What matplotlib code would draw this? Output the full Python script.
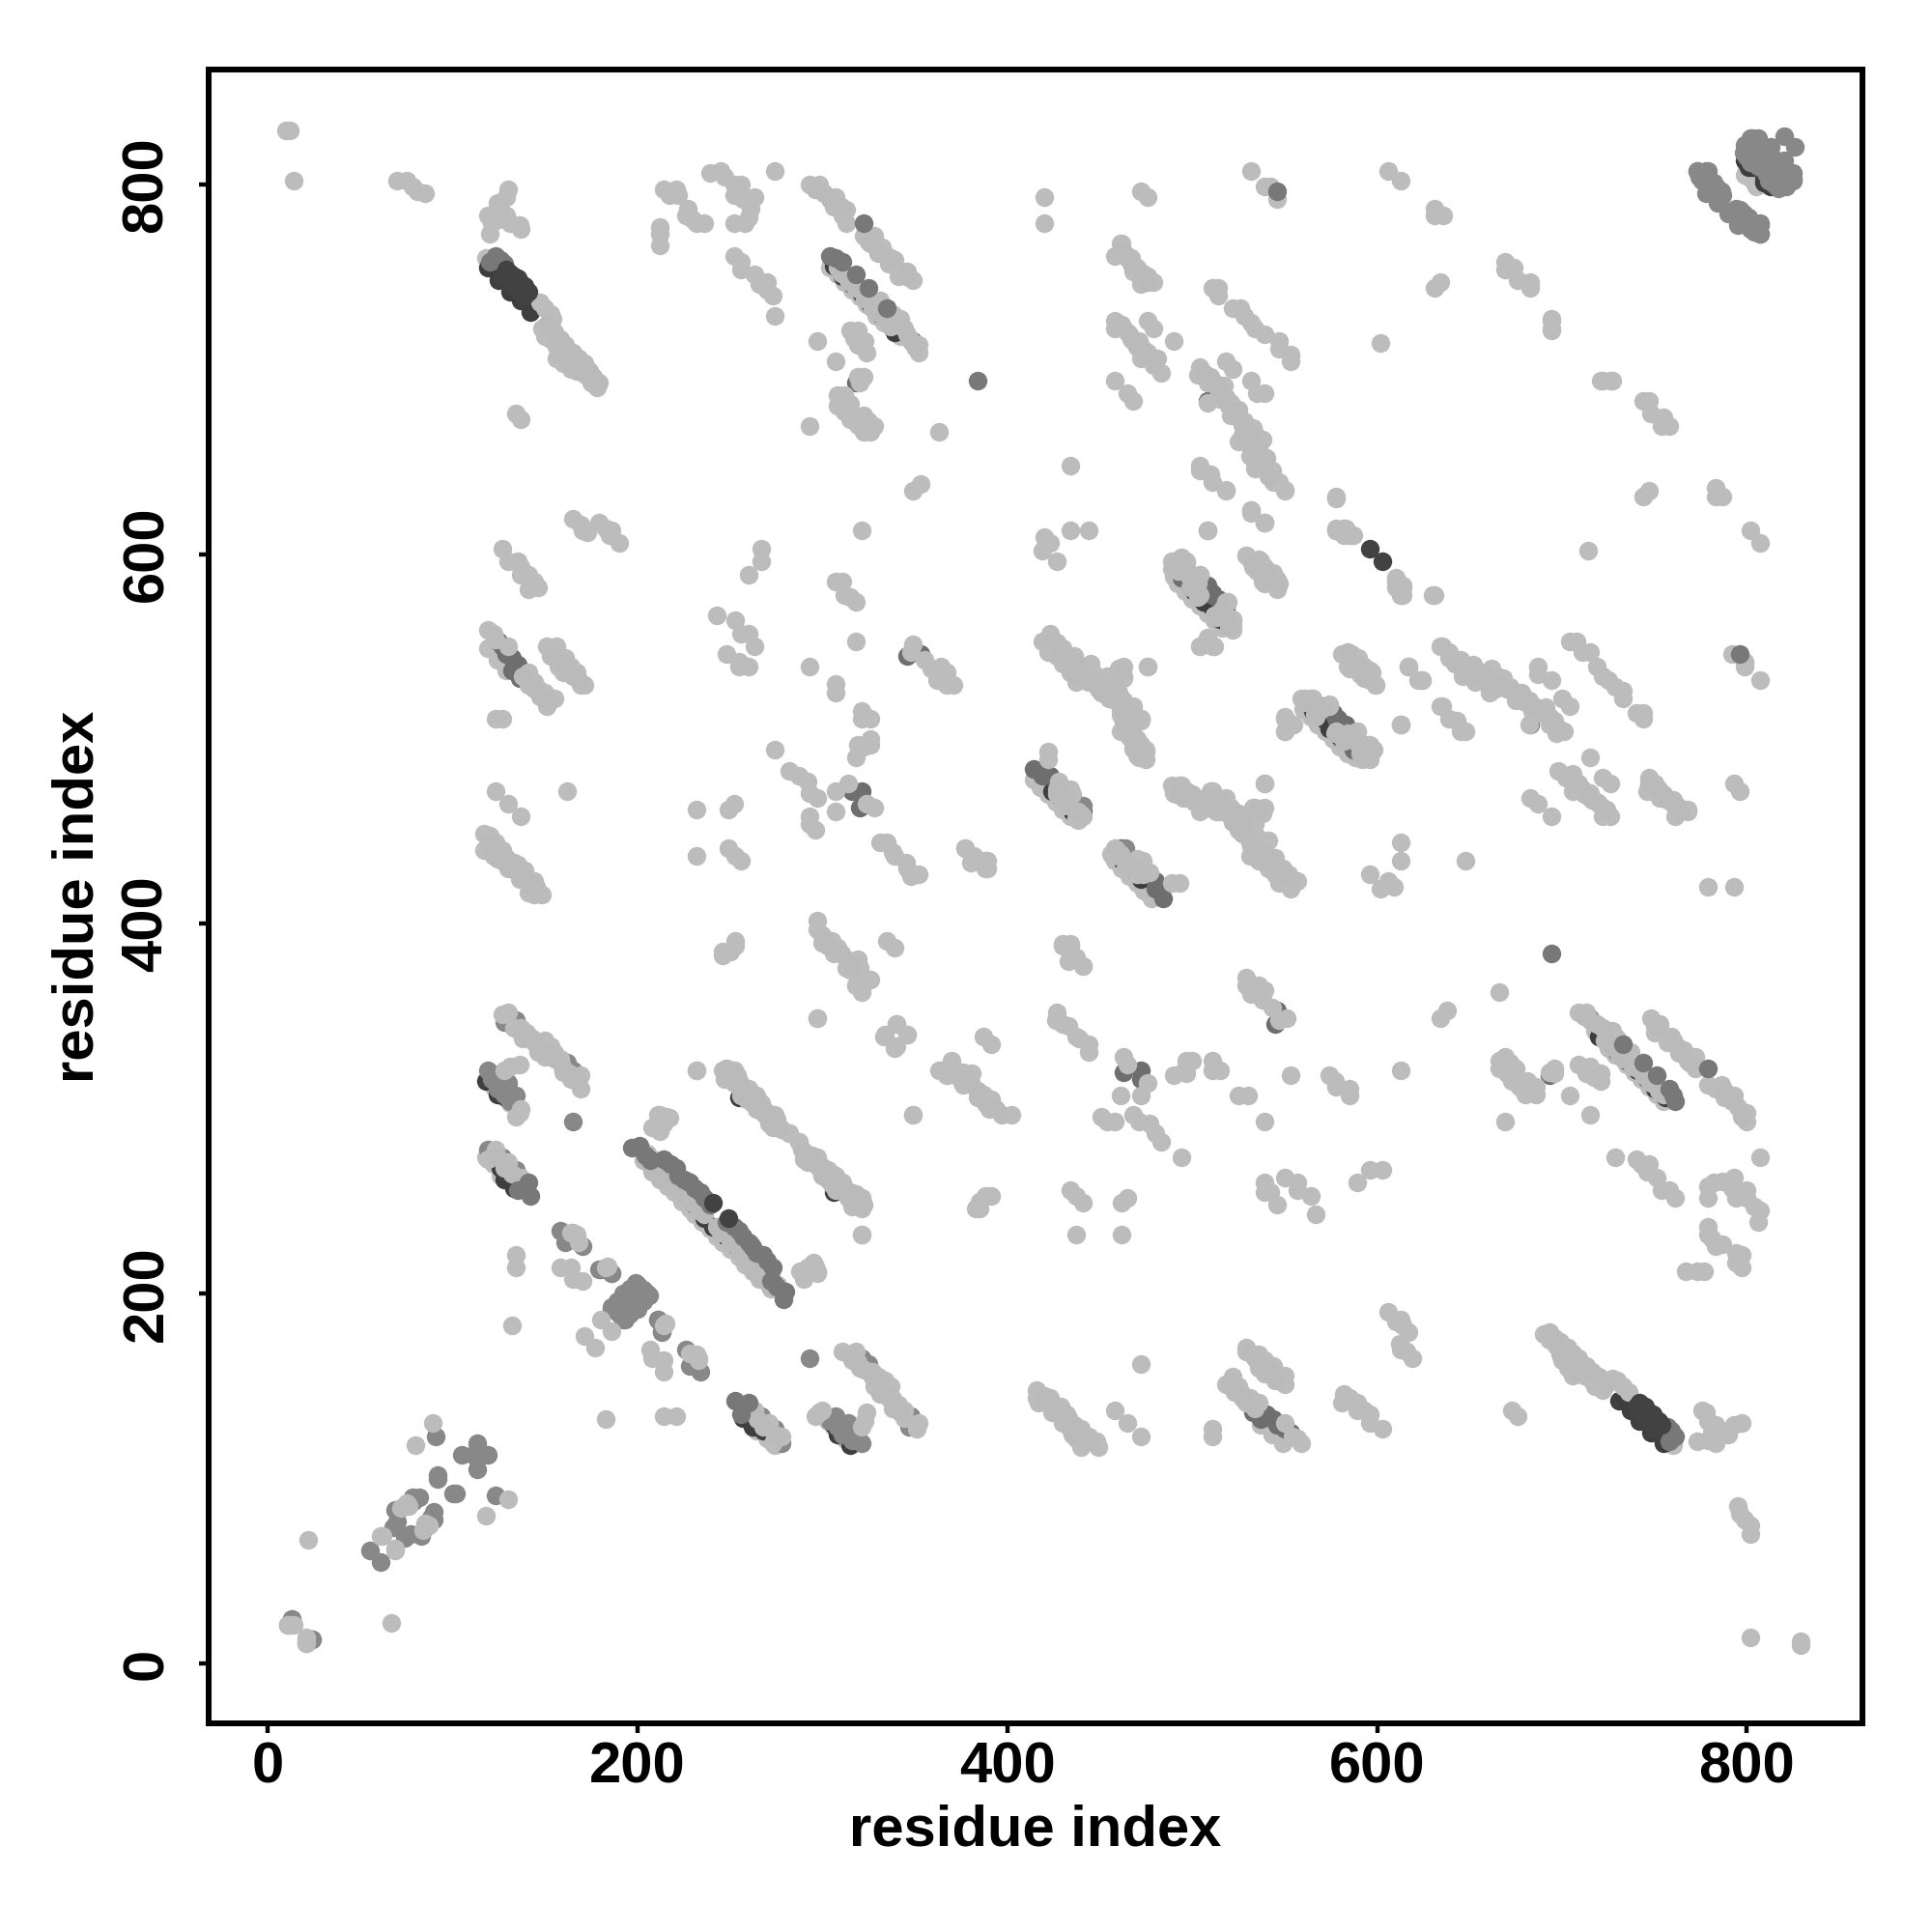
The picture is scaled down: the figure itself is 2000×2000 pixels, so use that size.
import numpy as np
import matplotlib
matplotlib.use("Agg")
import matplotlib.pyplot as plt

# contact map, pairs are (i, j) with i < j, the plot is drawn for both (i, j) and (j, i)
tick_values = [0, 200, 400, 600, 800]
tick_labels = ["0", "200", "400", "600", "800"]

# pale contacts that sit below the dark ones
pale_low = [(118,760),(120,756),(124,752),(127,749),(131,745),(135,741),(139,737),
    (119,549),(124,543),(129,537),(119,316),(122,312),(128,306),(131,303),(118,274),(122,270),(126,264),(132,262),(136,258),
    (205,271),(209,266),(212,262),(216,258),(220,255),(224,250),(228,246),(231,243),(235,239),(239,236),
    (205,276),(210,272),(214,268),(219,264),(223,260),(226,256),
    (304,755),(308,751),(312,747),(316,743),(320,739),(324,735),(329,729),(333,725),(338,722),(342,718),
    (489,592),(493,588),(497,584),(501,580),(505,576),(509,572),(513,568),(517,564),
    (560,516),(564,512),(568,508),(572,504),(576,500),(580,496),(584,492),(588,490),
    (414,478),(418,474),(422,470),(426,466),(430,462),(434,458),(438,456),
    (800,807),(804,801),(799,805),(810,800)]

deep = [(119,755),(125,748),(131,742),(137,737),(142,731),
    (121,318),(118,315),(124,308),(127,311),(129,306),(126,268),(128,262),(133,257),(148,332),
    (206,273),(211,268),(216,263),(221,258),(226,254),(231,248),(236,241),
    (306,756),(311,750),(316,746),(321,741),(326,735),(331,730),(339,720),(335,727),
    (506,574),(503,580),(497,590),(571,511),(574,506),(580,501),(587,496),(565,515),
    (424,472),(430,466),(435,461),(255,306),(306,257),(320,367),
    (801,809),(803,809),(800,817),(799,813),(809,816),(805,812)]

dark = [(346,545),(353,546),(316,472),(321,472),(320,463),(318,693),(414,484),(508,683),
    (508,583),(511,579),(514,576),(516,569),(578,511),(582,508),(567,518),(570,518),(587,494),(441,461),(419,480),(423,480),
    (127,550),(125,553),(132,544),(135,540),(132,537),(136,533),(129,546)]

mid = [(119,278),(127,274),(134,267),(129,270),(119,321),(130,314),(134,307),(127,317),(165,293),
    (134,348),(128,347),(162,325),(165,321),(158,234),(161,228),(170,226),(164,230),(179,213),(186,211),
    (92,102),(92,100),(91,123),(113,119),(105,113),(111,113),(55,61),(68,74),(70,82),(82,90),(79,88),(70,77),(69,83),
    (13,24),(11,21),(24,13),(13,22),
    (186,192),(190,196),(193,199),(196,202),(200,205),(190,189),(193,192),(196,196),(200,199),(203,202),(193,186),(196,189),(200,192),(203,196),(206,199),
    (211,186),(213,180),(441,464),(349,715),(335,733),
    (799,821),(802,825),(806,825),(798,817),(806,816),(813,820),(813,816),(820,826),(803,820),(809,819),(803,825),(803,824),(799,818),(807,822),
    (773,807),(778,807),(776,802),(780,800),(784,798),(778,795),(787,794),(784,790),(796,786),(791,785),(801,782),(796,779),(807,779),(807,773),(804,774),(799,783)]

mid_extra = [(121,316),(124,311),(128,308),(131,304),(125,314),(78,90),
    (802,812),(806,810),(800,815),(810,813),(808,818),(812,808),(815,805),(818,802),(820,805),(823,803)]

pale = [(10,829),(12,829),(14,802),(70,802),(75,802),(78,799),(81,796),(85,795),
    (130,797),(129,793),(124,790),(126,787),(119,783),(121,779),(120,773),(125,781),(129,783),(131,779),(136,778),(137,776),
    (147,736),(150,733),(153,730),(154,727),(148,722),(150,718),(153,716),(156,712),(160,710),(163,708),(166,704),(169,701),(172,697),(175,693),(178,690),(156,706),(160,703),(164,700),
    (134,676),(137,673),(165,619),(169,616),(170,613),(173,612),(179,617),(183,614),(186,613),(185,610),(190,606),
    (127,603),(130,596),(135,596),(137,593),(141,589),(137,589),(144,585),(141,581),(146,582),(143,583),
    (119,559),(123,554),(122,557),(130,550),(141,536),(144,531),(141,529),(150,525),(155,522),(151,518),(146,527),
    (151,550),(156,550),(157,544),(161,544),(157,539),(164,539),(167,536),(171,529),(169,529),(160,536),
    (123,511),(127,511),(123,472),(130,465),(137,458),(162,472),
    (117,449),(120,448),(123,444),(117,440),(127,440),(124,435),(133,433),(130,430),(139,429),(136,424),(144,423),(141,417),(148,416),(144,416),
    (127,351),(130,352),(140,341),(144,336),(150,337),(155,330),(150,328),(169,318),(169,311),(160,320),(133,344),(137,344),(147,334),(153,334),(158,327),(164,316),
    (131,323),(136,324),(128,321),(136,298),(137,300),(134,296),(119,273),(123,278),(130,271),(137,263),
    (164,233),(167,232),(168,228),(165,233),(134,221),(134,214),(158,214),(164,214),(165,208),(170,207),(184,215),
    (180,186),(171,177),(132,183),(214,183),(89,130),(80,118),(62,69),(75,87),(74,85),(69,61),(22,67),(14,21),(12,21),(21,11),
    (211,297),(215,296),(208,290),(212,288),(214,292),(217,295),(213,294),(216,295),
    (214,797),(221,797),(217,794),(222,794),(227,787),(226,783),(232,779),(236,779),(230,781),(212,777),(212,773),(212,767),
    (239,806),(245,807),(247,804),(252,800),(256,800),(252,794),(263,793),(261,787),(252,779),(258,779),(260,782),(257,792),(274,807),
    (293,800),(298,800),(301,795),(307,793),(306,788),(313,786),(311,783),(313,779),(322,772),(328,772),(332,766),(326,768),(334,762),(339,759),(336,757),(343,753),(349,748),(341,750),
    (252,761),(256,758),(256,754),(263,751),(270,747),(266,746),(273,740),(270,743),(274,729),
    (308,755),(315,747),(322,741),(331,737),(329,731),(342,727),(346,719),(352,709),(338,730),(352,713),
    (315,721),(319,721),(323,715),(324,709),(319,713),(317,717),(297,715),(307,704),(319,696),(322,696),(320,693),
    (308,686),(312,686),(308,680),(315,681),(322,675),(315,673),(322,666),(328,669),(325,672),(326,666),(312,677),(319,670),
    (293,669),(363,666),(420,793),(420,779),(434,648),(353,638),(349,634),(321,613),(420,609),(434,613),(444,613),(423,606),(419,602),(427,596),
    (461,768),(458,761),(465,760),(468,753),(472,748),(462,768),(467,760),(470,755),(476,750),(479,747),(472,746),
    (458,726),(458,722),(463,722),(467,716),(470,712),(472,706),(476,726),(479,722),(465,720),(471,715),(476,709),(481,706),(483,698),(479,702),
    (458,694),(465,687),(468,683),(490,715),(472,796),(476,793),
    (532,807),(539,799),(542,799),(546,792),(514,744),(511,744),(514,740),
    (522,733),(526,733),(528,729),(532,725),(534,722),(539,719),(547,715),(547,711),(553,708),(553,704),
    (504,701),(518,704),(522,700),(532,694),(539,687),(535,687),(503,697),(510,696),(508,693),(514,689),(517,691),(508,682),(521,682),(515,684),(526,673),(528,672),(521,675),(533,668),(538,662),(525,661),(534,665),(531,653),(536,652),(539,648),(534,646),(543,645),(544,639),(547,639),(550,634),
    (504,648),(504,645),(510,643),(511,639),(518,634),(532,624),(539,617),(508,613),
    (578,631),(578,613),(583,614),(587,610),(606,807),(613,802),(631,787),(631,783),(636,783),(631,744),(634,747),(602,714),
    (669,758),(669,754),(674,755),(676,748),(683,747),(683,744),(694,726),(694,722),(721,694),(727,694),
    (267,603),(267,596),(260,589),(307,585),(311,585),(312,578),(315,577),(318,574),
    (243,567),(253,564),(256,557),(260,557),(263,550),(248,546),(255,542),(255,539),(260,539),(318,553),(293,539),(307,530),(307,525),
    (349,551),(348,547),(355,543),(359,538),(364,539),(367,536),(362,532),(367,529),(371,529),
    (321,515),(321,511),(326,511),(326,500),(319,497),(326,497),(318,490),(322,496),(274,494),
    (282,483),(287,480),(292,477),(293,471),(297,468),(307,472),(314,476),(324,465),(328,463),(307,461),
    (232,462),(249,462),(252,465),(293,458),(293,454),(296,451),(232,437),(249,441),(253,437),(256,434),
    (331,444),(335,444),(338,439),(339,437),(345,433),(346,430),(352,427),(348,426),
    (377,441),(382,437),(380,433),(388,434),(388,430),
    (246,385),(253,391),(253,388),(246,383),(250,385),
    (297,402),(297,397),(300,390),(305,391),(308,387),(306,384),(313,381),(319,381),(313,376),(320,376),(326,370),(318,367),(321,363),
    (335,391),(339,387),(430,389),(434,389),(434,381),(437,381),(441,377),
    (422,493),(422,489),(428,477),(434,473),(435,470),(427,470),(430,464),(437,457),(441,458),
    (423,557),(419,553),(427,552),(422,547),(436,545),(430,541),(441,538),(437,531),(447,535),(460,538),(463,534),(458,534),(453,529),(458,521),(465,518),(461,513),(468,511),(472,510),(461,504),(466,501),(470,496),(470,491),(472,511),
    (430,549),(435,537),(442,532),(449,527),(427,545),(445,541),(454,534),
    (232,321),(246,321),(252,321),(250,317),(256,310),(260,310),(264,307),(267,303),(273,296),(271,292),(278,289),(282,287),(287,282),(292,274),(297,274),(302,267),(305,265),(311,260),(315,255),(321,252),(320,247),(316,247),
    (297,349),(340,346),(333,339),(346,340),(340,334),(364,321),(370,325),(367,318),(375,315),(349,297),(321,232),(290,209),(294,214),(297,212),(292,212),
    (489,596),(493,597),(497,596),(495,592),(500,588),(504,589),(500,584),(519,574),(522,565),(522,559),(512,567),(504,578),
    (508,613),(539,617),(532,622),(529,599),(536,597),(532,596),(539,593),(535,591),(542,590),(545,586),(539,584),(546,581),
    (508,554),(504,550),(512,550),(476,539),(472,511),(468,518),(472,497),(474,491),(471,490),(475,494),
    (489,475),(493,475),(497,472),(504,463),(503,466),(511,472),(512,465),(517,465),(521,463),(515,461),(524,457),(533,463),(539,463),(539,476),
    (583,613),(578,613),(585,610),(610,586),(614,582),(614,578),(610,582),(630,578),
    (582,546),(586,546),(590,544),(585,538),(592,538),(596,537),(593,533),(599,529),
    (561,522),(564,522),(574,518),(589,504),(585,502),(595,497),(596,490),(592,494),
    (550,511),(555,508),(550,504),(613,508),(617,539),(624,532),(635,550),(635,518)]

# more pale contacts
pale_extra = [(151,724),(155,720),(158,716),(161,713),(165,709),(168,706),(171,703),(174,699),(176,696),(179,693),(158,708),(163,703),(167,699),
    (120,444),(123,441),(126,438),(129,436),(122,437),(127,434),(131,432),(134,429),(137,426),(140,424),(142,421),(145,420),(135,432),(139,425),
    (138,534),(144,527),(147,523),(152,521),(153,545),(159,541),(162,537),(165,534),(168,532),
    (136,342),(143,338),(146,331),(152,331),(155,327),(159,323),(163,319),(167,315),(138,338),(124,274),(128,268),(132,265),
    (208,266),(214,262),(219,258),(224,255),(228,250),(233,245),(203,272),(212,263),(236,243),
    (248,318),(252,314),(257,307),(259,305),(262,303),(265,300),(268,298),(270,296),(275,294),(273,290),(290,277),(294,271),(299,269),(300,264),(307,263),(308,258),(312,255),(318,250),(318,254),(322,248),(256,307),(307,259),
    (310,752),(314,748),(318,744),(323,738),(327,733),(333,728),(337,723),(344,722),(348,715),(350,712),(296,797),(304,792),(310,788),(325,769),(330,763),(337,760),(345,750),(346,753),
    (461,764),(464,762),(467,757),(473,752),(476,747),(462,724),(466,719),(469,714),(473,711),(478,706),(480,703),
    (506,698),(512,693),(516,687),(520,680),(523,677),(527,670),(530,666),(533,660),(536,656),(540,652),(534,650),(541,642),(527,664),(530,660),(518,685),(525,678),
    (425,553),(428,549),(431,546),(434,543),(438,540),(434,536),(441,534),(444,531),(448,529),(451,525),(455,522),(461,518),(464,514),(467,514),(463,509),(467,506),(456,527),(460,525),(470,500),(468,495),
    (300,394),(303,388),(310,384),(316,378),(507,468),(513,468),(518,462),(522,459),(527,458),(536,462),(492,472),(500,468),
    (492,592),(498,590),(503,584),(516,570),(519,566),(520,561),(535,593),(540,587),(543,585),(547,584),
    (566,513),(577,503),(582,499),(589,498),(591,492),(593,490),(598,494),(587,541),(590,540),(595,533),
    (427,473),(431,468),(433,464),(438,461),(440,459),(72,84),(76,85)]

# grey contacts drawn on top of the pale ones
top_dark = [(123,761),(126,759),(128,757),(120,758),(141,260),(142,253),(135,256),(322,779),(546,796),(384,694),
    (197,279),(201,280),(204,275),(207,272),(214,273),(218,270),(221,268),(225,262),(228,260),(231,257),(236,252),(234,255),(227,261),(239,248),(222,264),
    (304,761),(307,760),(311,758),(318,751),(325,744),(335,733)]

top_deep = [(131,752),(133,750),(136,747),(139,745),(141,742),(135,749),(129,754),(127,750),(130,748),(133,745),(136,742),(139,740),(241,249),(596,603)]


def split_pairs(pairs):
    arr = np.array(pairs)
    return np.r_[arr[:, 0], arr[:, 1]], np.r_[arr[:, 1], arr[:, 0]]


fig = plt.figure(figsize=(20, 20), dpi=100)
ax = fig.add_axes([0.108, 0.108, 0.856, 0.856])

layers = [(pale_low, "#bdbdbd"), (deep, "#3e3e3e"), (dark, "#6e6e6e"), (mid, "#888888"), (mid_extra, "#888888"),
          (pale, "#bcbcbc"), (pale_extra, "#bababa"), (top_dark, "#787878"), (top_deep, "#424242")]
for pairs, colour in layers:
    xs, ys = split_pairs(pairs)
    ax.scatter(xs, ys, s=195, c=colour, linewidths=0)

ax.set_xlim(-32, 862.5)
ax.set_ylim(-32.3, 862)

font = {"family": "Liberation Sans", "weight": "bold", "size": 43}
ax.set_xticks(tick_values)
ax.set_xticklabels(tick_labels, **font)
ax.set_yticks(tick_values)
ax.set_yticklabels(tick_labels, rotation=90, va="center", **font)
ax.tick_params(axis="both", length=7, width=3.2, pad=6)
ax.tick_params(axis="y", pad=19)
for spine in ax.spines.values():
    spine.set_linewidth(4.3)

fig.text(0.536, 0.0525, "residue index", ha="center", va="center", **font)
fig.text(0.0405, 0.536, "residue index", rotation=90, ha="center", va="center", **font)

fig.savefig("out.png", dpi=100, facecolor="white")
